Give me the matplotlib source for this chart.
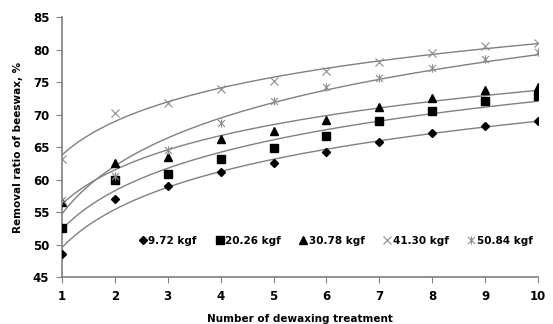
import numpy as np
import matplotlib.pyplot as plt
from matplotlib.path import Path

# ---------------- data ----------------
treatments = [1, 2, 3, 4, 5, 6, 7, 8, 9, 10]
labels = ["9.72 kgf", "20.26 kgf", "30.78 kgf", "41.30 kgf", "50.84 kgf"]

r_972 = [48.6, 57.0, 59.0, 61.2, 62.6, 64.2, 65.8, 67.1, 68.3, 69.05]
r_2026 = [52.6, 59.9, 60.8, 63.2, 64.8, 66.7, 69.05, 70.6, 72.1, 72.9]
r_3078 = [56.6, 62.6, 63.4, 66.2, 67.5, 69.2, 71.1, 72.5, 73.7, 74.2]
r_4130 = [63.2, 70.3, 71.8, 73.9, 75.2, 76.7, 78.1, 79.4, 80.5, 81.0]
r_5084 = [56.8, 60.5, 64.6, 68.7, 72.1, 74.2, 75.6, 77.1, 78.6, 79.6]

series = [r_972, r_2026, r_3078, r_4130, r_5084]

# asterisk marker like Excel: x plus a vertical bar
star = Path(
    [(-1, -1), (1, 1), (-1, 1), (1, -1), (0, -1.2), (0, 1.2)],
    [Path.MOVETO, Path.LINETO, Path.MOVETO, Path.LINETO, Path.MOVETO, Path.LINETO],
)

styles = [
    dict(marker="D", color="black", ms=4),
    dict(marker="s", color="black", ms=5.5),
    dict(marker="^", color="black", ms=6),
    dict(marker="x", color="#8c8c8c", ms=6, mew=0.8),
    dict(marker=star, color="#8c8c8c", ms=6, mew=0.8),
]

plt.rcParams["font.family"] = "DejaVu Sans"
plt.rcParams["font.weight"] = "bold"

fig = plt.figure(figsize=(5.53, 3.24), dpi=100)
ax = fig.add_axes([0.112, 0.145, 0.861, 0.8025])

x = np.array(treatments, dtype=float)
xs = np.linspace(1, 10, 200)
for vals, lab, st in zip(series, labels, styles):
    # logarithmic trendline
    a, b = np.polyfit(np.log(x), vals, 1)
    ax.plot(xs, a * np.log(xs) + b, color="#808080", lw=1, zorder=1)
    ax.plot(x, vals, ls="none", label=lab, zorder=3, **st)

ax.set_xlim(1, 10)
ax.set_ylim(45, 85)
ax.set_xticks(treatments)
ax.set_yticks(range(45, 86, 5))

for s in ["top", "right"]:
    ax.spines[s].set_visible(False)
for s in ["left", "bottom"]:
    ax.spines[s].set_color("#808080")
    ax.spines[s].set_linewidth(1.2)
ax.tick_params(direction="out", length=4, color="#808080", labelsize=8.5, pad=5)
for t in ax.get_xticklabels() + ax.get_yticklabels():
    t.set_fontweight("bold")

ax.set_xlabel("Number of dewaxing treatment", fontsize=7.5, fontweight="bold", labelpad=8)
ax.set_ylabel("Removal ratio of beeswax, %", fontsize=7.5, fontweight="bold", labelpad=7)

ax.legend(loc="center", bbox_to_anchor=(0.576, 0.138), ncol=5, frameon=False,
          handlelength=0.6, handletextpad=0.2, columnspacing=1.9,
          prop=dict(weight="bold", size=7.5))

fig.savefig("out.png", dpi=100)
